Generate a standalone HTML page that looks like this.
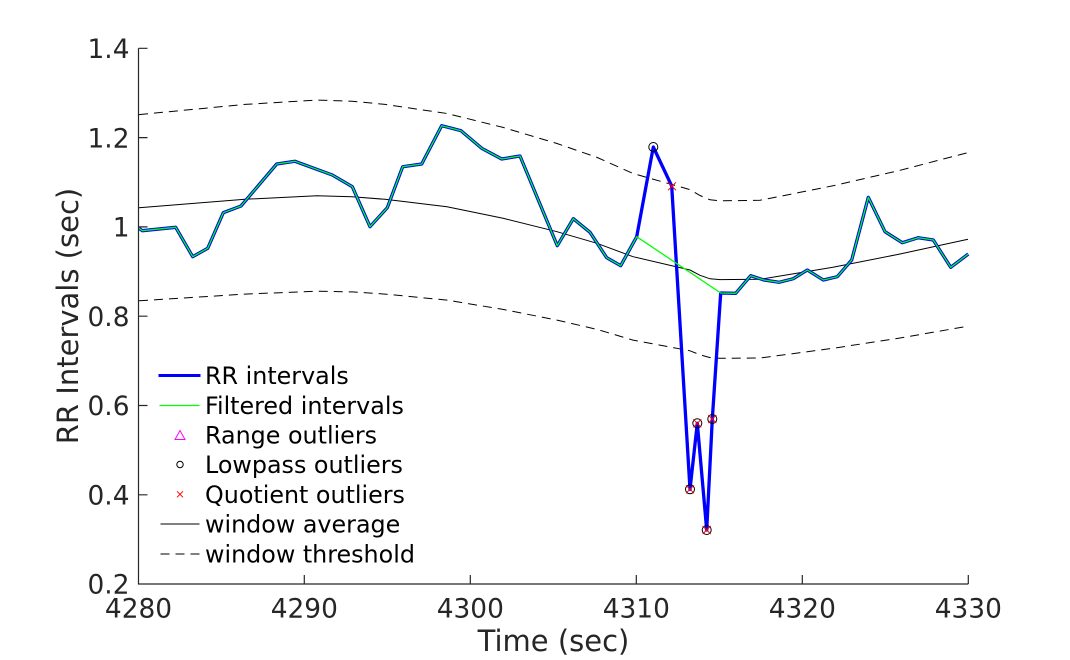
<!DOCTYPE html>
<html><head><meta charset="utf-8"><style>
html,body{margin:0;padding:0;background:#fff;}
svg{display:block;}
text{font-family:"DejaVu Sans","Liberation Sans",sans-serif;}
</style></head><body>
<svg width="1070" height="660" viewBox="0 0 1070 660" xmlns="http://www.w3.org/2000/svg">
<rect width="1070" height="660" fill="#fff"/>
<!-- window threshold upper -->
<polyline fill="none" stroke="#000" stroke-width="1" stroke-dasharray="9,6" points="139,114.6 245,104.4 317,100.1 352,101.2 385,104.4 447,113.5 503,127.4 557,143.5 597,157.4 633,173.5 690,189.6 700,195.5 710,199.8 720,200.8 760,200.3 833,185.8 900,170.3 968,152.6"/>
<!-- window threshold lower -->
<polyline fill="none" stroke="#000" stroke-width="1" stroke-dasharray="9,6" points="139,300.8 245,294.1 317,291.2 352,291.9 385,294.1 447,300.1 503,309.4 557,320.1 597,329.4 633,340.1 690,350.8 700,354.8 710,357.6 720,358.3 760,358 833,348.3 900,338 968,326.2"/>
<!-- window average -->
<polyline fill="none" stroke="#000" stroke-width="1" points="139,207.7 245,199.3 317,195.7 352,196.7 385,199.3 447,206.7 503,218.3 557,231.7 597,243.3 633,256.7 690,270 700,275.3 710,278.8 720,279.6 760,279.3 833,267.3 900,254 968,239.3"/>
<!-- RR intervals -->
<polyline fill="none" stroke="#0000ff" stroke-width="3.3" stroke-linejoin="round" points="139,228.3 142.3,230.7 175.7,227.3 192.7,256.7 207.7,248.3 223.3,212.7 241,206 276.7,164 295,161.3 332.3,175 352.3,186.7 370,226.7 387.3,207.7 402.7,166.7 421.7,164 441.7,125.7 461,130.7 481.7,148.3 501.7,159 520,156 557.3,245.7 573.3,218.7 590,232.3 606.7,257.7 620.7,265.7 636.7,236.7 653.3,147 671.7,186 690,489.3 697.3,423.3 706.7,530 712.3,419 720.7,293 735.7,293.3 750.7,275.7 764,280 779,282.3 793.3,278.7 807.3,270 823.3,280 837.3,276.7 851.7,260 868.3,197.3 885,231.7 902.3,242.7 918.3,237.7 933.3,240 950.7,267.3 968.3,254"/>
<!-- Filtered intervals -->
<polyline fill="none" stroke="#00ff00" stroke-width="1.3" stroke-linejoin="round" points="139,228.3 142.3,230.7 175.7,227.3 192.7,256.7 207.7,248.3 223.3,212.7 241,206 276.7,164 295,161.3 332.3,175 352.3,186.7 370,226.7 387.3,207.7 402.7,166.7 421.7,164 441.7,125.7 461,130.7 481.7,148.3 501.7,159 520,156 557.3,245.7 573.3,218.7 590,232.3 606.7,257.7 620.7,265.7 636.7,236.7 720.7,293 735.7,293.3 750.7,275.7 764,280 779,282.3 793.3,278.7 807.3,270 823.3,280 837.3,276.7 851.7,260 868.3,197.3 885,231.7 902.3,242.7 918.3,237.7 933.3,240 950.7,267.3 968.3,254"/>
<!-- Lowpass outliers -->
<g fill="none" stroke="#000" stroke-width="1">
<circle cx="653.3" cy="147" r="4.5"/>
<circle cx="690" cy="489.3" r="4.5"/>
<circle cx="697.3" cy="423.3" r="4.5"/>
<circle cx="706.7" cy="530" r="4.5"/>
<circle cx="712.3" cy="419" r="4.5"/>
</g>
<!-- Quotient outliers -->
<g fill="none" stroke="#ff0000" stroke-width="1">
<path d="M668,182.3l8,8M676,182.3l-8,8"/>
<path d="M686,485.3l8,8M694,485.3l-8,8"/>
<path d="M693.3,419.3l8,8M701.3,419.3l-8,8"/>
<path d="M702.7,526l8,8M710.7,526l-8,8"/>
<path d="M708.3,415l8,8M716.3,415l-8,8"/>
</g>
<!-- Axes -->
<g stroke="#262626" stroke-width="1.2" fill="none">
<path d="M138.5,48.3V584H968.3"/>
<path d="M138.5,48.3h9M138.5,137.6h9M138.5,226.9h9M138.5,316.2h9M138.5,405.5h9M138.5,494.8h9"/>
<path d="M304.3,584v-9M470.3,584v-9M636.3,584v-9M802.3,584v-9M968.3,584v-9"/>
</g>
<g fill="#262626" font-size="26.4" text-anchor="end">
<text x="129.5" y="58">1.4</text>
<text x="129.5" y="147.3">1.2</text>
<text x="129.5" y="236.6">1</text>
<text x="129.5" y="325.9">0.8</text>
<text x="129.5" y="415.2">0.6</text>
<text x="129.5" y="504.5">0.4</text>
<text x="129.5" y="593.7">0.2</text>
</g>
<g fill="#262626" font-size="26.4" text-anchor="middle">
<text x="138.5" y="617.5">4280</text>
<text x="304.3" y="617.5">4290</text>
<text x="470.3" y="617.5">4300</text>
<text x="636.3" y="617.5">4310</text>
<text x="802.3" y="617.5">4320</text>
<text x="968.3" y="617.5">4330</text>
</g>
<text x="553.5" y="651" font-size="29" fill="#262626" text-anchor="middle">Time (sec)</text>
<text transform="translate(78,316) rotate(-90)" font-size="29" fill="#262626" text-anchor="middle">RR Intervals (sec)</text>
<!-- Legend -->
<line x1="158.5" y1="375.5" x2="200.5" y2="375.5" stroke="#0000ff" stroke-width="3"/>
<line x1="159.5" y1="405.5" x2="199.5" y2="405.5" stroke="#00ff00" stroke-width="1.3"/>
<path d="M180,430.5 L185,439.5 L175,439.5 Z" fill="none" stroke="#ff00ff" stroke-width="1"/>
<circle cx="180" cy="464.5" r="3.2" fill="none" stroke="#000" stroke-width="1"/>
<path d="M177,491.3l6,6M183,491.3l-6,6" stroke="#ff0000" stroke-width="1"/>
<line x1="160.5" y1="524" x2="199.5" y2="524" stroke="#000" stroke-width="1"/>
<line x1="160.5" y1="554" x2="199.5" y2="554" stroke="#000" stroke-width="1" stroke-dasharray="9,6"/>
<g font-size="23.8" fill="#000">
<text x="205" y="383.8">RR intervals</text>
<text x="205" y="413.8">Filtered intervals</text>
<text x="205" y="443.6">Range outliers</text>
<text x="205" y="473">Lowpass outliers</text>
<text x="205" y="502.8">Quotient outliers</text>
<text x="205" y="532.5">window average</text>
<text x="205" y="562.5">window threshold</text>
</g>
</svg>
</body></html>
